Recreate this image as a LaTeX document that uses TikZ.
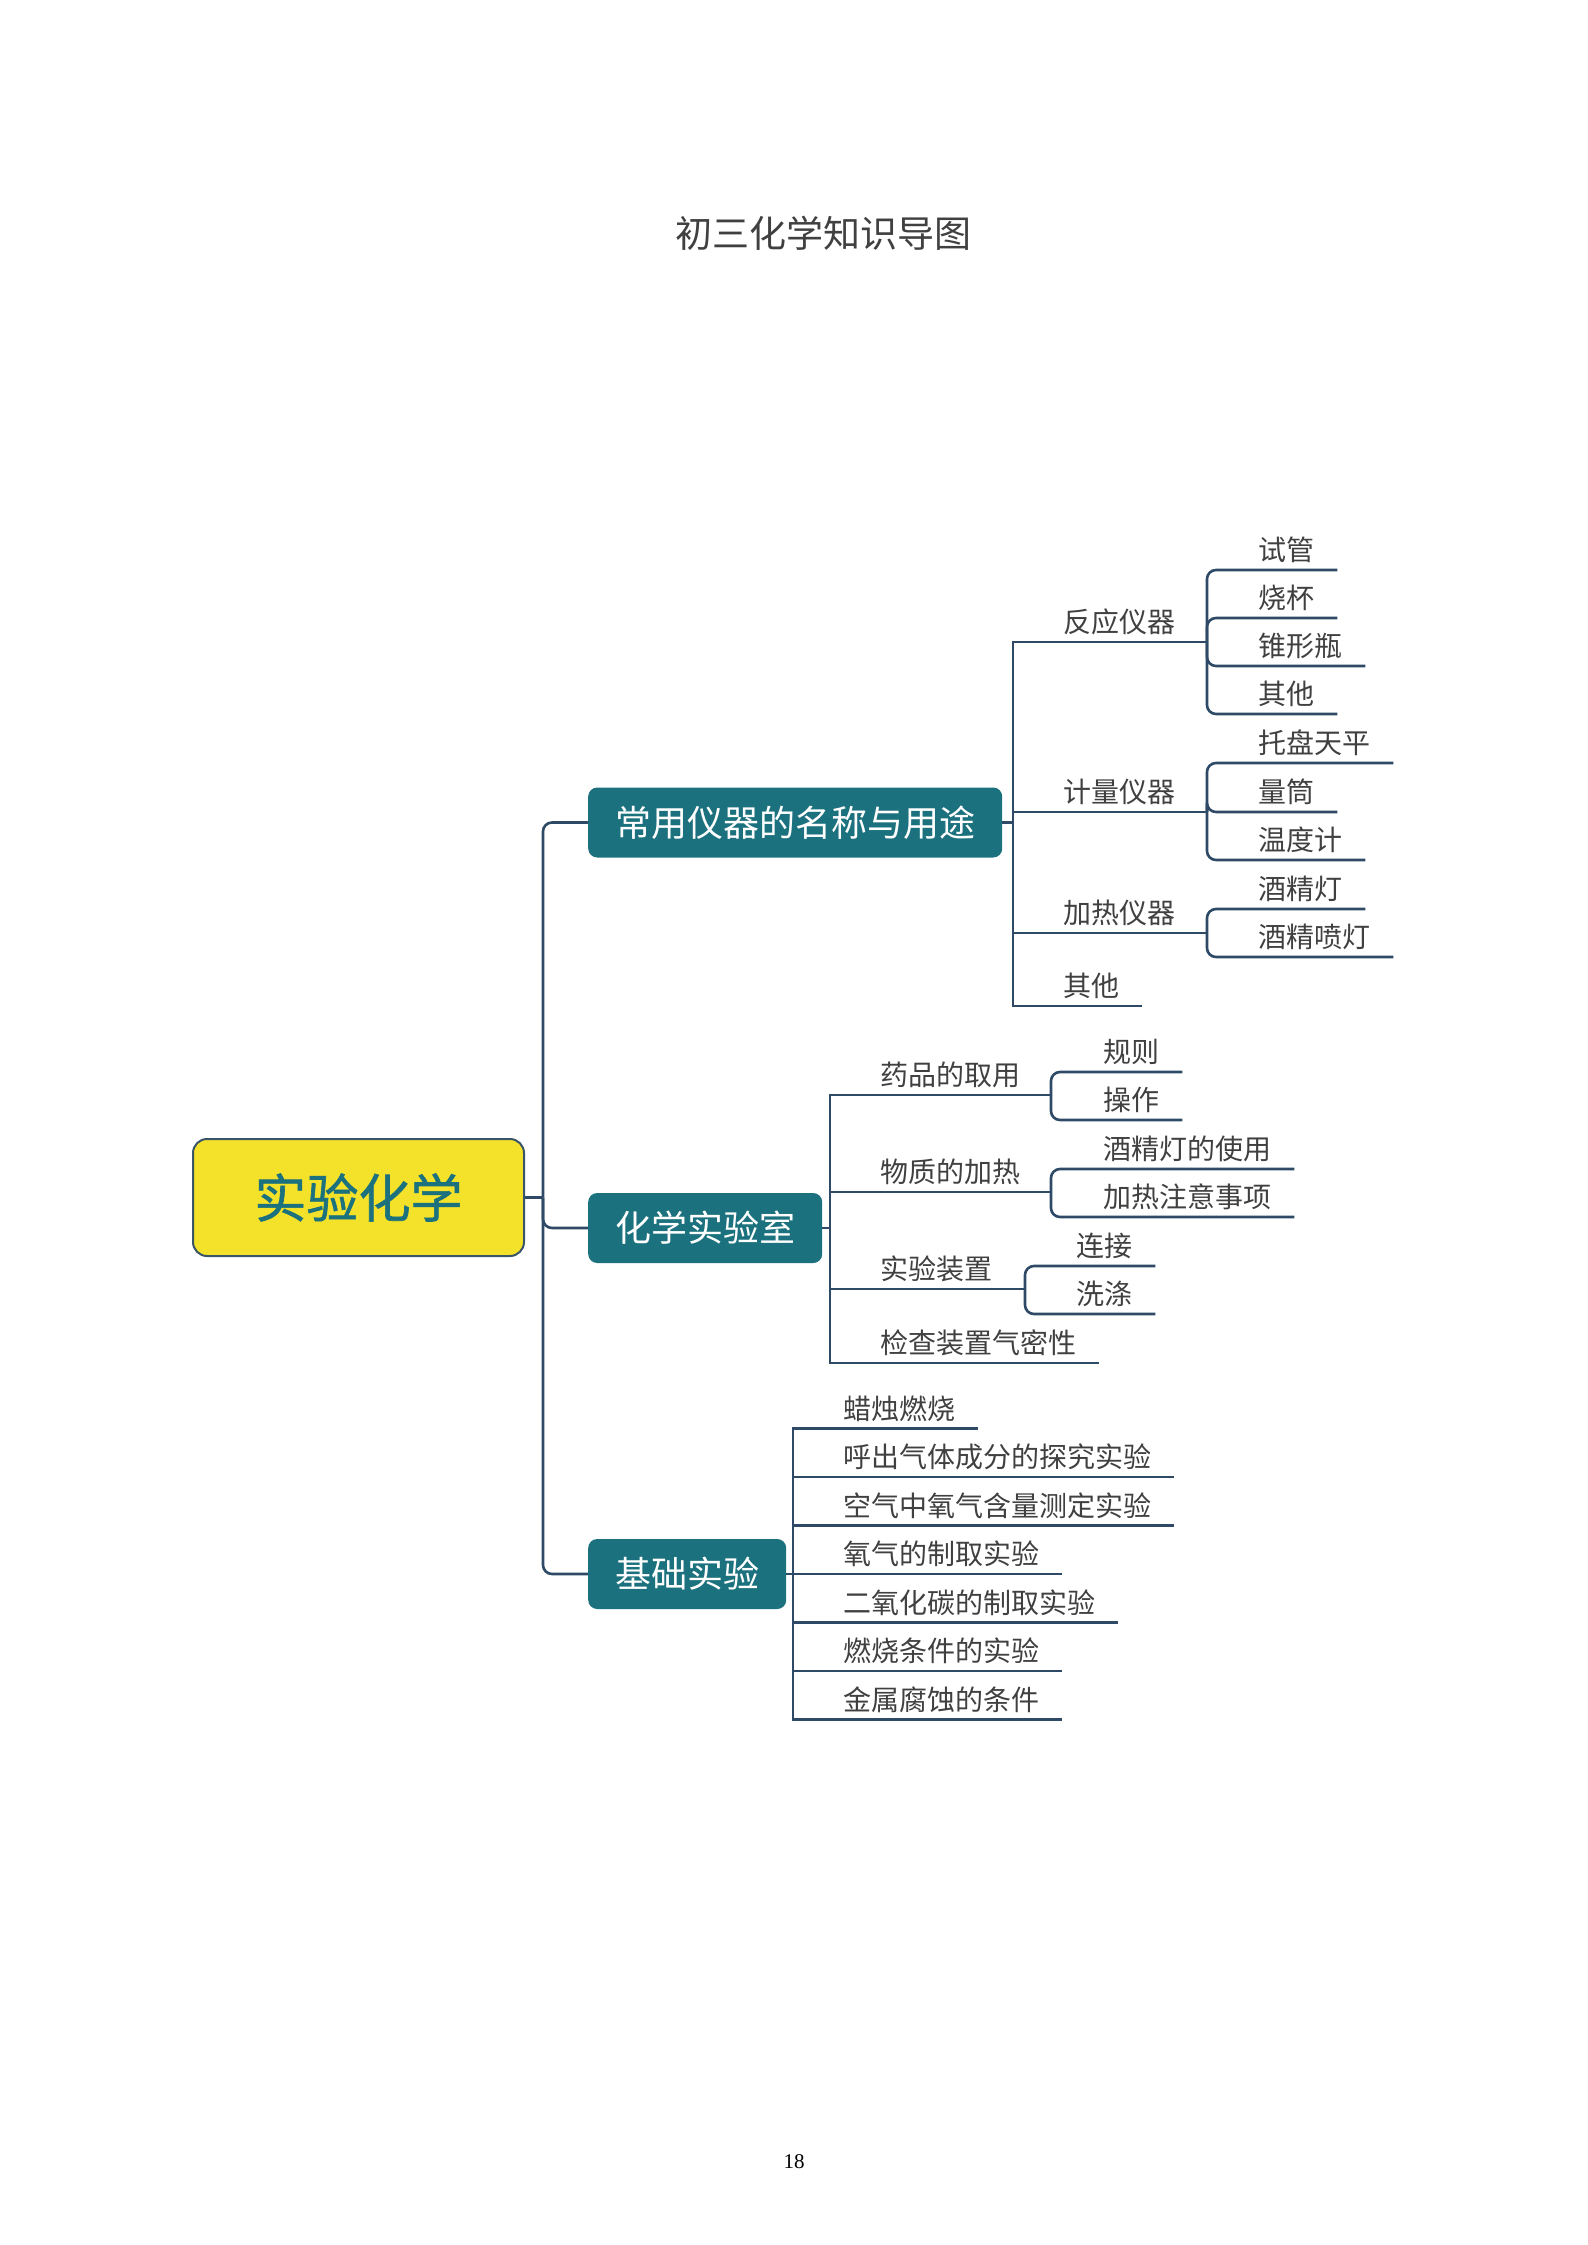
\documentclass[tikz,border=0pt]{standalone}
\usepackage{fontspec}
\setmainfont{Liberation Serif}
\newfontfamily\cjk{Noto Sans CJK SC}
\newfontfamily\cjkfb[FakeBold=1.2]{Noto Sans CJK SC}
\definecolor{tealbox}{HTML}{1B717D}
\definecolor{yelbox}{HTML}{F3E12A}
\definecolor{linec}{HTML}{2E4A66}
\definecolor{txtc}{HTML}{404040}
\definecolor{rootedge}{HTML}{3A5468}
\begin{document}
\begin{tikzpicture}[x=1pt,y=-1pt,
  conn/.style={draw=linec, line width=2.6pt},
  rconn/.style={conn, rounded corners=9pt},
  rootbox/.style={fill=yelbox, draw=rootedge, line width=2pt, rounded corners=14pt,
    minimum width=331pt, minimum height=117pt, inner sep=0pt, text=tealbox,
    font=\cjkfb\fontsize{52}{56}\selectfont},
  lonebox/.style={fill=tealbox, rounded corners=9pt, text=white, anchor=west,
    inner xsep=27pt, inner ysep=0pt, minimum height=70pt,
    font=\cjk\fontsize{36}{40}\selectfont},
  lbl/.style={inner sep=0pt, anchor=south west, text depth=9pt, text=txtc,
    font=\cjk\fontsize{28}{32}\selectfont}
]
\useasboundingbox (0,0) rectangle (1587,2245);

% title and page number
\node[text=txtc, font=\cjk\fontsize{37}{40}\selectfont] (title) at (823.5,233) {初三化学知识导图};
\node[text=black, font=\fontsize{21}{24}\selectfont] (pageno) at (794,2162) {18};

% root
\node[rootbox] (root) at (358.5,1197.5) {实验化学};
\coordinate (rj) at (543,1197.5);

% level 1
\node[lonebox] (cy) at (588,822.5) {常用仪器的名称与用途};
\node[lonebox] (lab) at (588,1228) {化学实验室};
\node[lonebox] (base) at (588,1574) {基础实验};

\draw[conn] (root.east) -- (rj);
\draw[rconn] (rj) |- (cy.west);
\draw[rconn] (rj) |- (lab.west);
\draw[rconn] (rj) |- (base.west);

% ---------- group 1 ----------
\coordinate (cyj) at (1013,822.5);
\draw[conn] (cy.east) -- (cyj);
\node[lbl] (fy) at (1063,642) {反应仪器};
\node[lbl] (jl) at (1063,812) {计量仪器};
\node[lbl] (jr) at (1063,933) {加热仪器};
\node[lbl] (qt) at (1063,1006) {其他};
\coordinate (fyj) at (1207,642);
\coordinate (jlj) at (1207,812);
\coordinate (jrj) at (1207,933);
\draw[conn] (cyj) |- (fy.south west) -- (fyj);
\draw[conn] (cyj) |- (jl.south west) -- (jlj);
\draw[conn] (cyj) |- (jr.south west) -- (jrj);
\draw[conn] (cyj) |- (qt.south west) -- ([xshift=23pt]qt.south east);

\node[lbl] (sg) at (1258,570) {试管};
\node[lbl] (sb) at (1258,618) {烧杯};
\node[lbl] (zxp) at (1258,666) {锥形瓶};
\node[lbl] (qt2) at (1258,714) {其他};
\foreach \c in {sg,sb,zxp,qt2}
  \draw[rconn] (fyj) |- (\c.south west) -- ([xshift=23pt]\c.south east);

\node[lbl] (tp) at (1258,763) {托盘天平};
\node[lbl] (lt) at (1258,812) {量筒};
\node[lbl] (wdj) at (1258,860) {温度计};
\foreach \c in {tp,lt,wdj}
  \draw[rconn] (jlj) |- (\c.south west) -- ([xshift=23pt]\c.south east);

\node[lbl] (jjd) at (1258,909) {酒精灯};
\node[lbl] (jjpd) at (1258,957) {酒精喷灯};
\foreach \c in {jjd,jjpd}
  \draw[rconn] (jrj) |- (\c.south west) -- ([xshift=23pt]\c.south east);

% ---------- group 2 ----------
\coordinate (labj) at (830,1228);
\draw[conn] (lab.east) -- (labj);
\node[lbl] (yp) at (880,1095) {药品的取用};
\node[lbl] (wz) at (880,1192) {物质的加热};
\node[lbl] (sy) at (880,1289) {实验装置};
\node[lbl] (jc) at (880,1363) {检查装置气密性};
\coordinate (ypj) at (1051,1095);
\coordinate (wzj) at (1051,1192);
\coordinate (syj) at (1025,1289);
\draw[conn] (labj) |- (yp.south west) -- (ypj);
\draw[conn] (labj) |- (wz.south west) -- (wzj);
\draw[conn] (labj) |- (sy.south west) -- (syj);
\draw[conn] (labj) |- (jc.south west) -- ([xshift=23pt]jc.south east);

\node[lbl] (gz) at (1103,1072) {规则};
\node[lbl] (cz) at (1103,1120) {操作};
\foreach \c in {gz,cz}
  \draw[rconn] (ypj) |- (\c.south west) -- ([xshift=23pt]\c.south east);

\node[lbl] (jdsy) at (1103,1169) {酒精灯的使用};
\node[lbl] (jrzy) at (1103,1217) {加热注意事项};
\foreach \c in {jdsy,jrzy}
  \draw[rconn] (wzj) |- (\c.south west) -- ([xshift=23pt]\c.south east);

\node[lbl] (lj) at (1076,1266) {连接};
\node[lbl] (xd) at (1076,1314) {洗涤};
\foreach \c in {lj,xd}
  \draw[rconn] (syj) |- (\c.south west) -- ([xshift=23pt]\c.south east);

% ---------- group 3 ----------
\coordinate (basej) at (793,1574);
\draw[conn] (base.east) -- (basej);
\node[lbl] (b1) at (843,1428.5) {蜡烛燃烧};
\node[lbl] (b2) at (843,1477) {呼出气体成分的探究实验};
\node[lbl] (b3) at (843,1525.5) {空气中氧气含量测定实验};
\node[lbl] (b4) at (843,1574) {氧气的制取实验};
\node[lbl] (b5) at (843,1622.5) {二氧化碳的制取实验};
\node[lbl] (b6) at (843,1671) {燃烧条件的实验};
\node[lbl] (b7) at (843,1719.5) {金属腐蚀的条件};
\foreach \c in {b1,b2,b3,b4,b5,b6,b7}
  \draw[conn] (basej) |- (\c.south west) -- ([xshift=23pt]\c.south east);
\end{tikzpicture}
\end{document}
